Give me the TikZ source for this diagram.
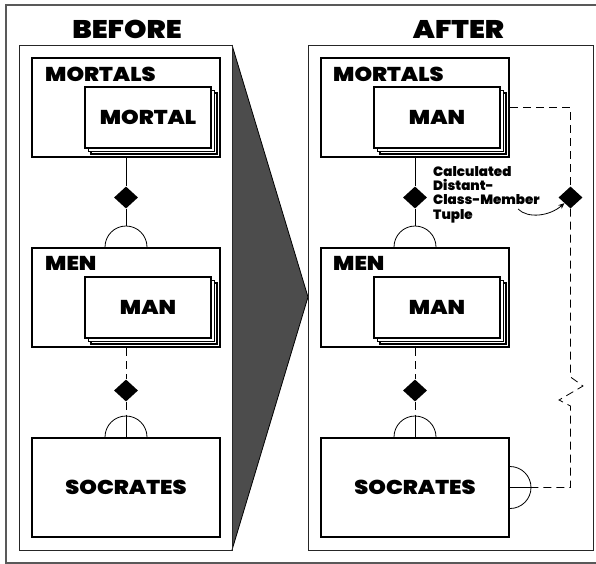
\documentclass[tikz,border=0pt]{standalone}
\usepackage{fontspec}
\newfontfamily\heavy{Poppins Black}[FakeStretch=1.12]
\newfontfamily\heavynote{Poppins Black}[FakeStretch=1.0]
\usetikzlibrary{shapes.geometric,arrows.meta,calc}

\begin{document}
\begin{tikzpicture}[x=1pt,y=1pt,
  frame/.style={draw=black!65, line width=1.2pt},
  panel/.style={draw=black!85, line width=1pt},
  entity/.style={draw, line width=2pt, fill=white, minimum width=188pt,
    minimum height=99pt, inner sep=0pt, font=\heavy\fontsize{20}{20}\selectfont},
  member/.style={draw, line width=2pt, fill=white, minimum width=126pt,
    minimum height=61pt, inner sep=0pt, font=\heavy\fontsize{20}{20}\selectfont},
  stackline/.style={draw, line width=1.1pt, fill=white},
  title/.style={font=\heavy\fontsize{25.5}{25.5}\selectfont, inner sep=0pt, anchor=base},
  setname/.style={font=\heavy\fontsize{20}{20}\selectfont, inner sep=0pt, anchor=base west},
  rel/.style={diamond, fill=black, minimum width=24pt, minimum height=22pt, inner sep=0pt},
  link/.style={line width=0.8pt},
  dlink/.style={line width=0.8pt, dash pattern=on 8pt off 5pt},
  note/.style={font=\heavynote\fontsize{13.5}{14.3}\selectfont, align=left, inner sep=0pt, anchor=north west}
]
\useasboundingbox (0,0) rectangle (596,-563);

% outer frame and the two panels
\draw[frame] (6,-5) rectangle (600,-563);
\fill[black!70] (232,-45) -- (308,-297) -- (232,-550) -- cycle;
\draw[line width=0.8pt] (232,-45) -- (308,-297) -- (232,-550);
\draw[panel] (19,-45) rectangle (232,-550);
\draw[panel] (308,-45) rectangle (593,-550);

\node[title] (tbefore) at (127,-38) {BEFORE};
\node[title] (tafter) at (458.5,-38) {AFTER};

% ---------- BEFORE ----------
\node[entity] (mortals) at (126,-107.5) {};
\node[setname] (lmortals) at (45,-81) {MORTALS};
\coordinate (cmortal) at (148,-117.5);
\foreach \s in {6,3.5}
  \draw[stackline] ($(cmortal)+(-63+\s,30.5-\s)$) rectangle ($(cmortal)+(63+\s,-30.5-\s)$);
\node[member] (mortal) at (cmortal) {MORTAL};

\node[entity] (men) at (126,-297.5) {};
\node[setname] (lmen) at (45,-270) {MEN};
\coordinate (cman) at (148,-307.5);
\foreach \s in {6,3.5}
  \draw[stackline] ($(cman)+(-63+\s,30.5-\s)$) rectangle ($(cman)+(63+\s,-30.5-\s)$);
\node[member] (man) at (cman) {MAN};

\node[entity] (socrates) at (126,-487.5) {SOCRATES};

\node[rel] (r1) at (126,-197.5) {};
\node[rel] (r2) at (126,-390.5) {};

\coordinate (a1) at ($(men.north)+(0,21)$);
\coordinate (a2) at ($(socrates.north)+(0,21)$);
\draw[link] (mortals.south) -- (r1.north);
\draw[link] (r1.south) -- (a1);
\draw[link] ($(men.north)+(-21,0)$) arc[start angle=180, end angle=0, radius=21];
\draw[dlink] (men.south) -- (r2.north);
\draw[dlink] (r2.south) -- (a2);
\draw[link] (a2) -- (socrates.north);
\draw[link] ($(socrates.north)+(-21,0)$) arc[start angle=180, end angle=0, radius=21];

% ---------- AFTER ----------
\node[entity] (mortals2) at (415,-107.5) {};
\node[setname] (lmortals2) at (333,-81) {MORTALS};
\coordinate (cman1) at (437,-117.5);
\foreach \s in {6,3.5}
  \draw[stackline] ($(cman1)+(-63+\s,30.5-\s)$) rectangle ($(cman1)+(63+\s,-30.5-\s)$);
\node[member] (man1) at (cman1) {MAN};

\node[entity] (men2) at (415,-297.5) {};
\node[setname] (lmen2) at (333,-270) {MEN};
\coordinate (cman2) at (437,-307.5);
\foreach \s in {6,3.5}
  \draw[stackline] ($(cman2)+(-63+\s,30.5-\s)$) rectangle ($(cman2)+(63+\s,-30.5-\s)$);
\node[member] (man2) at (cman2) {MAN};

\node[entity] (socrates2) at (415,-487.5) {SOCRATES};

\node[rel] (r3) at (415,-197.5) {};
\node[rel] (r4) at (415,-390.5) {};
\node[rel] (r5) at (570.5,-197.5) {};

\coordinate (a3) at ($(men2.north)+(0,21)$);
\coordinate (a4) at ($(socrates2.north)+(0,21)$);
\coordinate (a5) at ($(socrates2.east)+(21,0)$);
\draw[link] (mortals2.south) -- (r3.north);
\draw[link] (r3.south) -- (a3);
\draw[link] ($(men2.north)+(-21,0)$) arc[start angle=180, end angle=0, radius=21];
\draw[dlink] (men2.south) -- (r4.north);
\draw[dlink] (r4.south) -- (a4);
\draw[link] (a4) -- (socrates2.north);
\draw[link] ($(socrates2.north)+(-21,0)$) arc[start angle=180, end angle=0, radius=21];

% distant tuple: dashed route with a break mark
\coordinate (k1) at (570.5,-107.5);
\coordinate (b1) at (570.5,-377);
\coordinate (b2) at (583,-386);
\coordinate (b3) at (559,-400);
\coordinate (b4) at (570.5,-406);
\coordinate (k2) at (570.5,-487.5);
\draw[dlink] (mortals2.east) -- (k1) -- (r5.north);
\draw[dlink] (r5.south) -- (b1) -- (b2) -- (b3) -- (b4) -- (k2) -- (a5);
\draw[link] (a5) -- (socrates2.east);
\draw[link] ($(socrates2.east)+(0,21)$) arc[start angle=90, end angle=-90, radius=21];

\node[note] (note) at (433,-166) {Calculated\\Distant-\\Class-Member\\Tuple};
\coordinate (nstart) at (518,-209);
\draw[link, -{Stealth[length=6pt,width=5pt]}] (nstart) .. controls (528,-219) and (550,-216) .. (r5.south west);
\end{tikzpicture}
\end{document}
